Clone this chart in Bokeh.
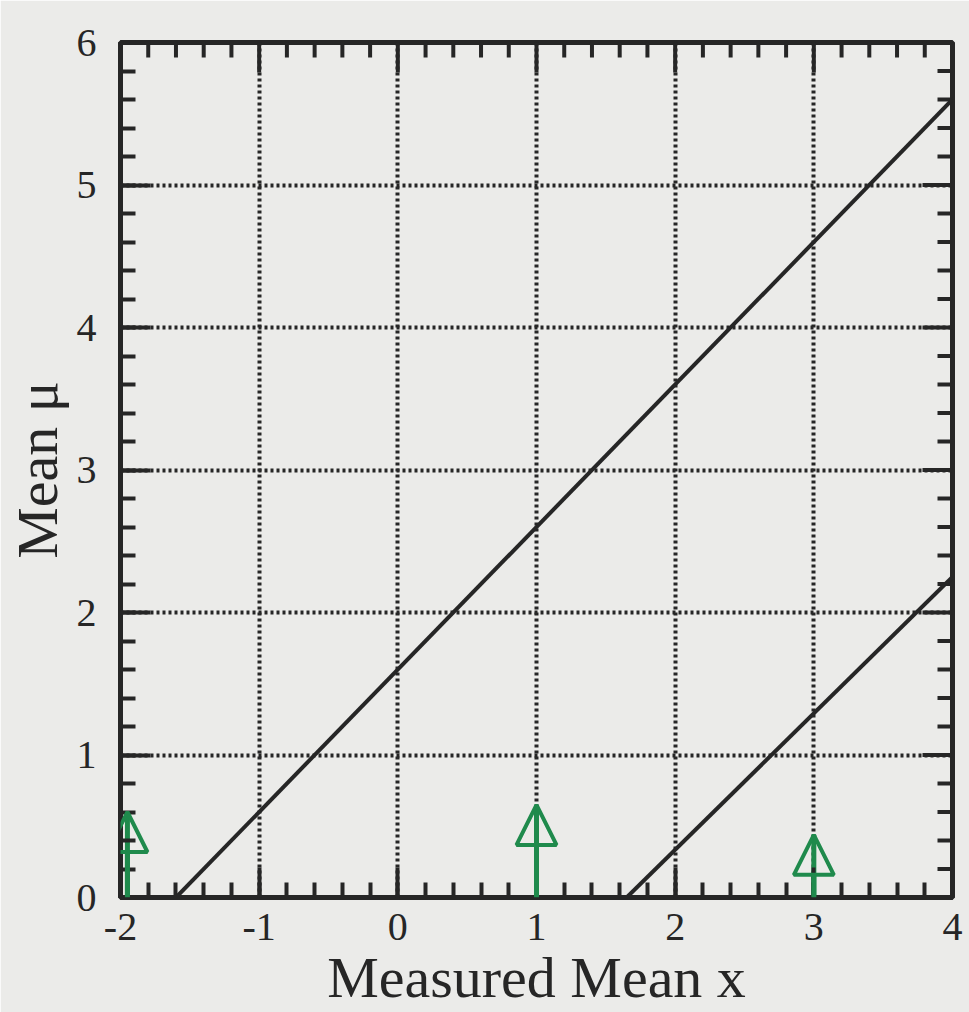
import math
import numpy as np
from bokeh.plotting import figure
from bokeh.models import (SingleIntervalTicker, LinearAxis, Range1d, Arrow,
                          NormalHead, ColumnDataSource)
from bokeh.embed import file_html
from bokeh.resources import INLINE

# ---- data ----
x_range_vals = [-2, 4]
y_range_vals = [0, 6]
x_tick_labels = {-2: "-2", -1: "-1", 0: "0", 1: "1", 2: "2", 3: "3", 4: "4"}
upper_x = [-1.6, 4.0]
upper_y = [0.0, 5.6]
lower_x = [1.65, 4.0]
lower_y = [0.0, 2.25]
arrow_x = [-1.95, 1.0, 3.0]
arrow_y0 = [0.0, 0.0, 0.0]
arrow_y1 = [0.6, 0.65, 0.44]

INK = "#262626"
BG = "#ebebe9"
GREEN = "#1f8a4c"
FONT = "Liberation Serif"
MAJ = 30
MIN = 15

p = figure(width=969, height=1012, output_backend="svg", toolbar_location=None,
           x_range=Range1d(*x_range_vals), y_range=Range1d(*y_range_vals),
           x_axis_location=None, y_axis_location=None,
           min_border_left=120, min_border_right=17, min_border_top=42,
           min_border_bottom=114)
p.background_fill_color = BG
p.border_fill_color = BG
p.outline_line_color = INK
p.outline_line_width = 5
p.outline_line_alpha = 1.0


def style(ax):
    ax.ticker = SingleIntervalTicker(interval=1, num_minor_ticks=5)
    ax.axis_line_color = INK
    ax.axis_line_width = 5
    ax.major_tick_in = MAJ
    ax.major_tick_out = 0
    ax.minor_tick_in = MIN
    ax.minor_tick_out = 0
    ax.major_tick_line_color = INK
    ax.major_tick_line_width = 4
    ax.minor_tick_line_color = INK
    ax.minor_tick_line_width = 4
    ax.major_label_text_font = FONT
    ax.major_label_text_font_size = "40px"
    ax.major_label_text_color = INK
    ax.axis_label_text_font = FONT
    ax.axis_label_text_font_size = "58px"
    ax.axis_label_text_font_style = "normal"
    ax.axis_label_text_color = INK


xb = LinearAxis(axis_label="Measured Mean x")
style(xb)
xb.major_label_overrides = x_tick_labels
xb.major_label_standoff = 16
xb.axis_label_standoff = 2
p.add_layout(xb, "below")

yl = LinearAxis(axis_label="Mean μ")
style(yl)
yl.major_label_standoff = 24
yl.axis_label_standoff = 4
p.add_layout(yl, "left")

# mirrored inward ticks on the top and right edges (dash markers clipped by frame)
x0, x1 = x_range_vals
y0, y1 = y_range_vals
xmaj = np.arange(x0, x1 + 0.001, 1.0)
ymaj = np.arange(y0, y1 + 0.001, 1.0)
xmin_ = [v for v in np.arange(x0, x1 + 0.001, 0.2) if abs(v - round(v)) > 1e-6]
ymin_ = [v for v in np.arange(y0, y1 + 0.001, 0.2) if abs(v - round(v)) > 1e-6]

p.scatter(xmaj, [y1] * len(xmaj), marker="dash", size=2 * MAJ, angle=math.pi / 2,
          line_color=INK, line_width=4)
p.scatter(xmin_, [y1] * len(xmin_), marker="dash", size=2 * MIN, angle=math.pi / 2,
          line_color=INK, line_width=4)
p.scatter([x1] * len(ymaj), ymaj, marker="dash", size=2 * MAJ,
          line_color=INK, line_width=4)
p.scatter([x1] * len(ymin_), ymin_, marker="dash", size=2 * MIN,
          line_color=INK, line_width=4)

p.xgrid.ticker = SingleIntervalTicker(interval=1)
p.ygrid.ticker = SingleIntervalTicker(interval=1)
p.grid.grid_line_color = INK
p.grid.grid_line_width = 4
p.grid.grid_line_dash = "3 3"

p.line(upper_x, upper_y, line_color=INK, line_width=4)
p.line(lower_x, lower_y, line_color=INK, line_width=4)

src = ColumnDataSource(dict(x=arrow_x, y0=arrow_y0, y1=arrow_y1))
# shaft runs all the way to the tip, as in the hand-drawn arrows
p.segment(x0="x", y0="y0", x1="x", y1="y1", source=src,
          line_color=GREEN, line_width=5)
p.add_layout(Arrow(end=NormalHead(size=40, fill_color=None, line_color=GREEN,
                                  line_width=4),
                   x_start="x", y_start="y0", x_end="x", y_end="y1",
                   line_color=GREEN, line_width=5, source=src))

open("out.html", "w").write(file_html(p, INLINE))
